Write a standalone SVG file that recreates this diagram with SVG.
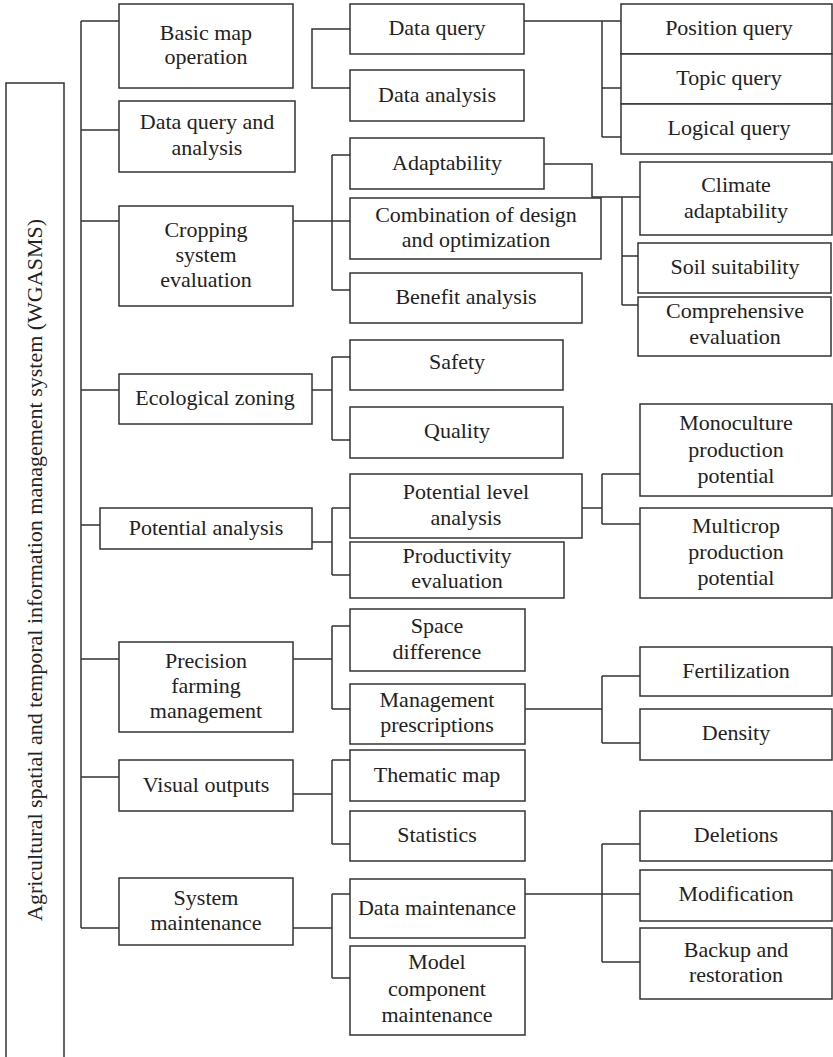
<svg xmlns="http://www.w3.org/2000/svg" width="833" height="1057" viewBox="0 0 833 1057">
<style>
.b{fill:#fff;stroke:#333;stroke-width:1.5}
.t{font-family:"Liberation Serif","Times New Roman",serif;font-size:22px;fill:#222;text-anchor:middle}
.c{fill:none;stroke:#333;stroke-width:1.5}
</style>
<rect width="833" height="1057" fill="#fff"/>
<g id="connectors" class="c">
<path d="M81 21V928M81 21H119M81 130H119M81 221H119M81 390H119M81 525H100M81 659H119M81 777H119M81 928H119"/>
<path d="M350 29H312V88H350"/>
<path d="M524 21H621M602 21V137M602 88H621M602 137H621"/>
<path d="M293 221H332M332 155V290M332 155H350M332 221H350M332 290H350"/>
<path d="M544 164H592V197H640M622 197V305M622 256H638M622 305H638"/>
<path d="M312 390H332M332 357V440M332 357H350M332 440H350"/>
<path d="M312 542H332M332 508V575M332 508H350M332 575H350"/>
<path d="M582 508H602M602 474V524M602 474H640M602 524H640"/>
<path d="M293 659H332M332 626V709M332 626H350M332 709H350"/>
<path d="M525 709H602M602 676V743M602 676H640M602 743H640"/>
<path d="M293 794H332M332 760V844M332 760H350M332 844H350"/>
<path d="M293 928H332M332 894V978M332 894H350M332 978H350"/>
<path d="M525 894H640M602 844V962M602 844H640M602 962H640"/>
</g>
<g id="root"><path class="c" d="M6 1065V83H64V1065"/><text class="t" transform="translate(42,570) rotate(-90)">Agricultural spatial and temporal information management system (WGASMS)</text></g>
<g id="basic"><rect class="b" x="119" y="4" width="174" height="84"/><text class="t" x="206" y="40">Basic map</text><text class="t" x="206" y="64">operation</text></g>
<g id="dqa"><rect class="b" x="119" y="101" width="176" height="71"/><text class="t" x="207" y="129">Data query and</text><text class="t" x="207" y="155">analysis</text></g>
<g id="crop"><rect class="b" x="119" y="206" width="174" height="100"/><text class="t" x="206" y="237">Cropping</text><text class="t" x="206" y="262">system</text><text class="t" x="206" y="287">evaluation</text></g>
<g id="eco"><rect class="b" x="119" y="374" width="193" height="50"/><text class="t" x="215" y="405">Ecological zoning</text></g>
<g id="pot"><rect class="b" x="100" y="508" width="212" height="41"/><text class="t" x="206" y="535">Potential analysis</text></g>
<g id="prec"><rect class="b" x="119" y="642" width="174" height="90"/><text class="t" x="206" y="668">Precision</text><text class="t" x="206" y="693">farming</text><text class="t" x="206" y="718">management</text></g>
<g id="vis"><rect class="b" x="119" y="760" width="174" height="51"/><text class="t" x="206" y="792">Visual outputs</text></g>
<g id="sys"><rect class="b" x="119" y="878" width="174" height="67"/><text class="t" x="206" y="905">System</text><text class="t" x="206" y="930">maintenance</text></g>
<g id="dq"><rect class="b" x="350" y="4" width="174" height="50"/><text class="t" x="437" y="35">Data query</text></g>
<g id="da"><rect class="b" x="350" y="70" width="174" height="51"/><text class="t" x="437" y="102">Data analysis</text></g>
<g id="adapt"><rect class="b" x="350" y="138" width="194" height="51"/><text class="t" x="447" y="170">Adaptability</text></g>
<g id="comb"><rect class="b" x="350" y="198" width="251" height="61"/><text class="t" x="476" y="222">Combination of design</text><text class="t" x="476" y="247">and optimization</text></g>
<g id="ben"><rect class="b" x="350" y="273" width="232" height="50"/><text class="t" x="466" y="304">Benefit analysis</text></g>
<g id="safety"><rect class="b" x="350" y="340" width="213" height="50"/><text class="t" x="457" y="369">Safety</text></g>
<g id="quality"><rect class="b" x="350" y="407" width="213" height="51"/><text class="t" x="457" y="438">Quality</text></g>
<g id="pla"><rect class="b" x="350" y="474" width="232" height="64"/><text class="t" x="466" y="499">Potential level</text><text class="t" x="466" y="525">analysis</text></g>
<g id="prod"><rect class="b" x="350" y="542" width="214" height="56"/><text class="t" x="457" y="563">Productivity</text><text class="t" x="457" y="588">evaluation</text></g>
<g id="space"><rect class="b" x="350" y="609" width="175" height="62"/><text class="t" x="437" y="633">Space</text><text class="t" x="437" y="659">difference</text></g>
<g id="mgmt"><rect class="b" x="350" y="684" width="175" height="60"/><text class="t" x="437" y="707">Management</text><text class="t" x="437" y="732">prescriptions</text></g>
<g id="them"><rect class="b" x="350" y="750" width="175" height="51"/><text class="t" x="437" y="782">Thematic map</text></g>
<g id="stat"><rect class="b" x="350" y="811" width="175" height="50"/><text class="t" x="437" y="842">Statistics</text></g>
<g id="dm"><rect class="b" x="350" y="879" width="175" height="59"/><text class="t" x="437" y="915">Data maintenance</text></g>
<g id="mcm"><rect class="b" x="350" y="946" width="175" height="89"/><text class="t" x="437" y="969">Model</text><text class="t" x="437" y="996">component</text><text class="t" x="437" y="1022">maintenance</text></g>
<g id="posq"><rect class="b" x="621" y="4" width="211" height="50"/><text class="t" x="729" y="35">Position query</text></g>
<g id="topq"><rect class="b" x="621" y="54" width="211" height="50"/><text class="t" x="729" y="85">Topic query</text></g>
<g id="logq"><rect class="b" x="621" y="104" width="211" height="50"/><text class="t" x="729" y="135">Logical query</text></g>
<g id="clim"><rect class="b" x="640" y="162" width="192" height="73"/><text class="t" x="736" y="192">Climate</text><text class="t" x="736" y="218">adaptability</text></g>
<g id="soil"><rect class="b" x="638" y="243" width="193" height="50"/><text class="t" x="735" y="274">Soil suitability</text></g>
<g id="comp"><rect class="b" x="638" y="297" width="193" height="59"/><text class="t" x="735" y="318">Comprehensive</text><text class="t" x="735" y="344">evaluation</text></g>
<g id="mono"><rect class="b" x="640" y="404" width="192" height="92"/><text class="t" x="736" y="430">Monoculture</text><text class="t" x="736" y="457">production</text><text class="t" x="736" y="483">potential</text></g>
<g id="multi"><rect class="b" x="640" y="508" width="192" height="90"/><text class="t" x="736" y="533">Multicrop</text><text class="t" x="736" y="559">production</text><text class="t" x="736" y="585">potential</text></g>
<g id="fert"><rect class="b" x="640" y="647" width="192" height="49"/><text class="t" x="736" y="678">Fertilization</text></g>
<g id="dens"><rect class="b" x="640" y="709" width="192" height="51"/><text class="t" x="736" y="740">Density</text></g>
<g id="del"><rect class="b" x="640" y="811" width="192" height="50"/><text class="t" x="736" y="842">Deletions</text></g>
<g id="mod"><rect class="b" x="640" y="870" width="192" height="51"/><text class="t" x="736" y="901">Modification</text></g>
<g id="backup"><rect class="b" x="640" y="928" width="192" height="71"/><text class="t" x="736" y="957">Backup and</text><text class="t" x="736" y="982">restoration</text></g>
</svg>
